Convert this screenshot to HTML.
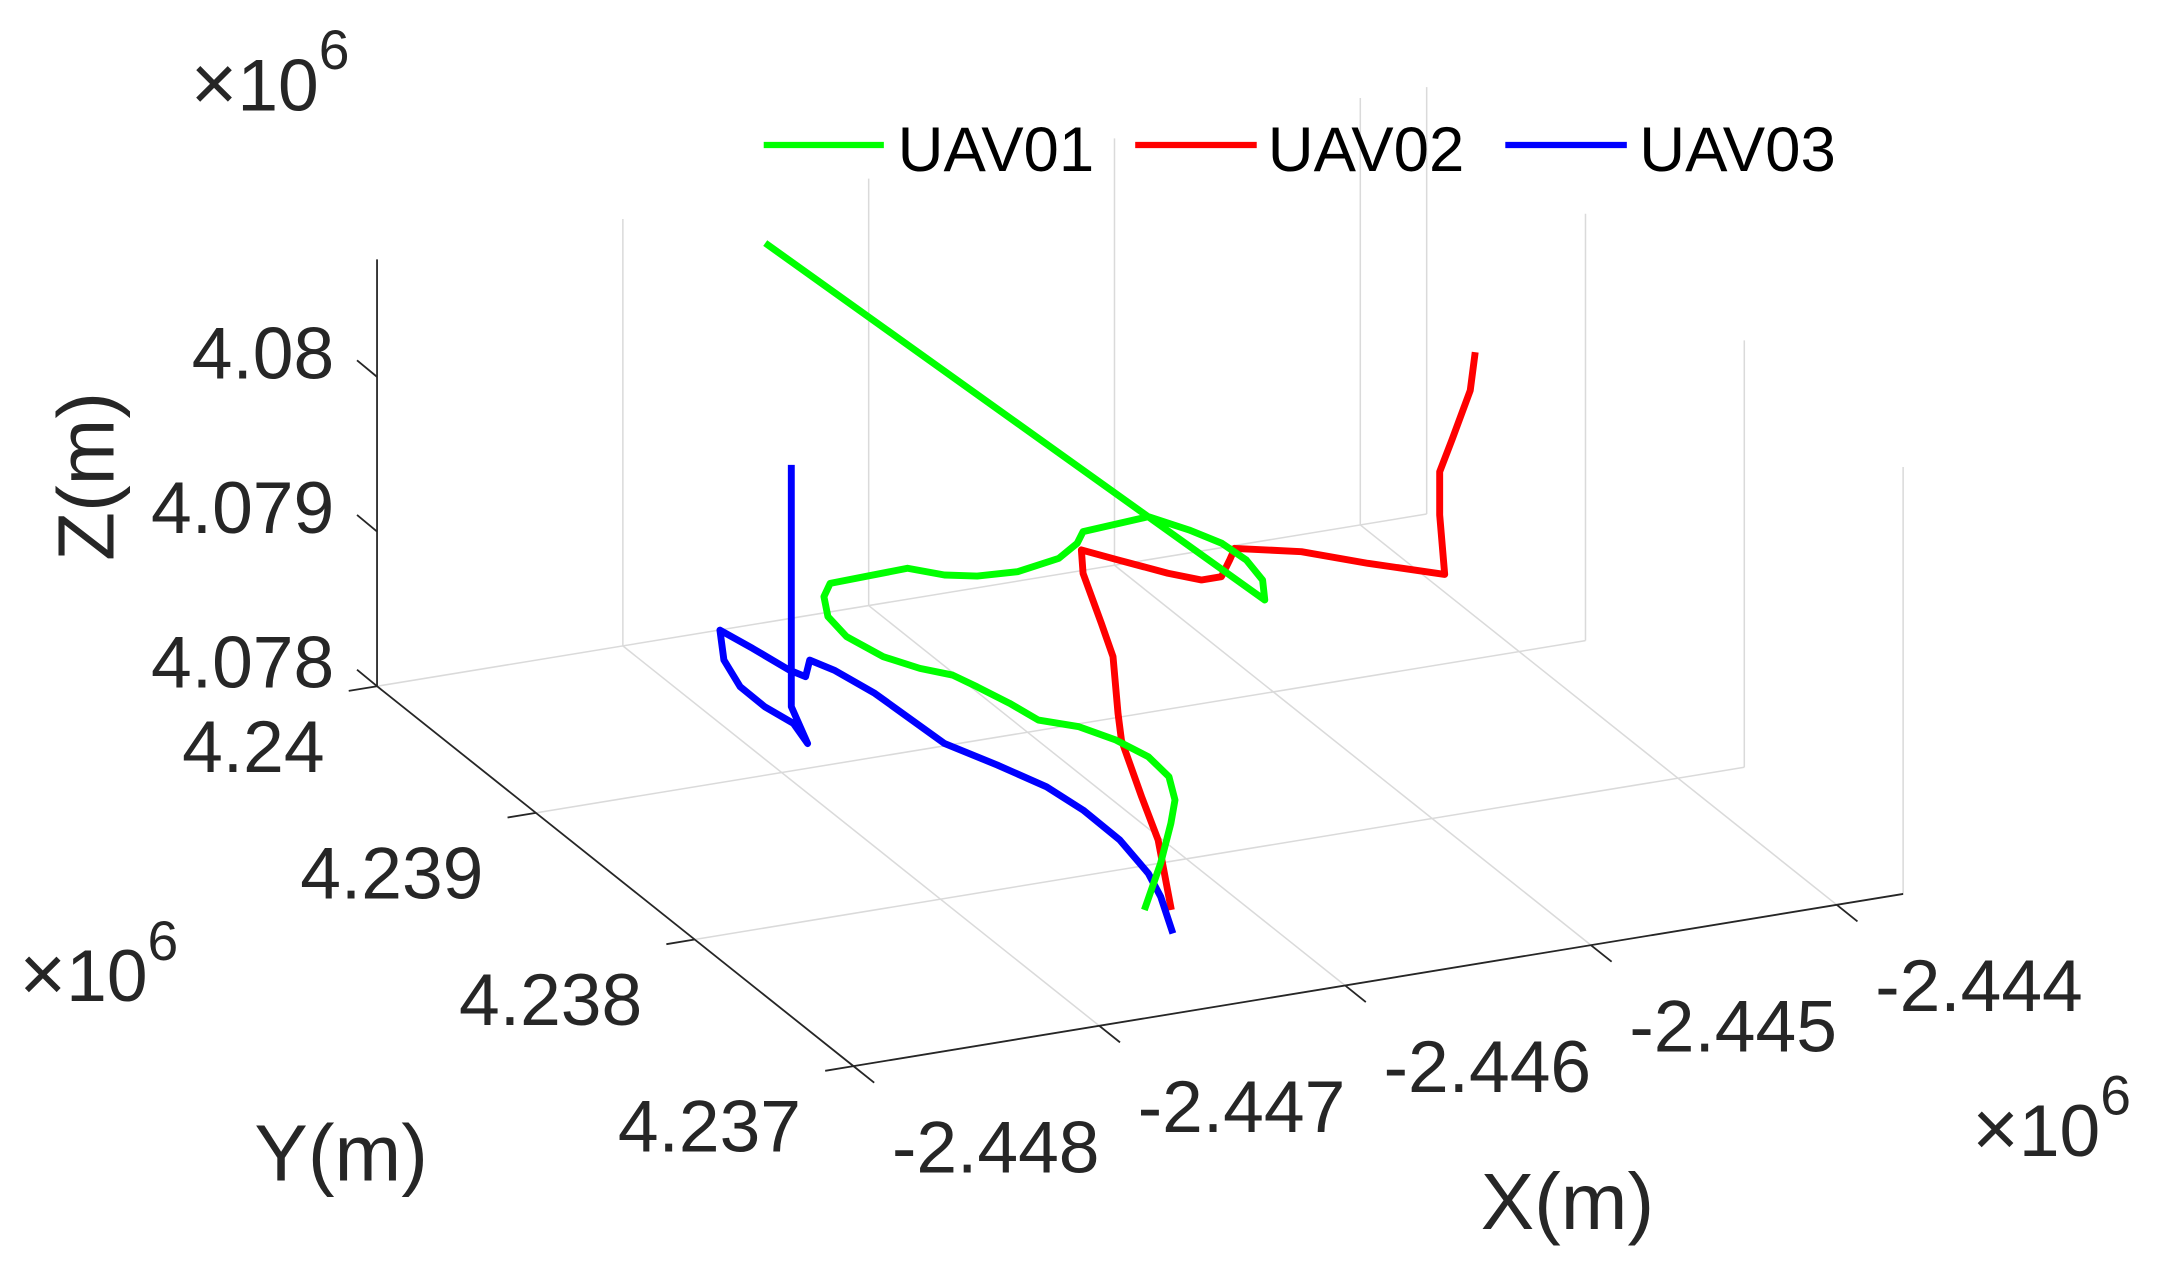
<!DOCTYPE html>
<html><head><meta charset="utf-8"><title>UAV trajectories</title>
<style>html,body{margin:0;padding:0;background:#fff;}svg{display:block;}</style></head>
<body>
<svg id="chart" xmlns="http://www.w3.org/2000/svg" width="2166" height="1277" viewBox="0 0 1568.4 924.7" font-family="Liberation Sans, Arial, sans-serif">
<rect x="0" y="0" width="1568.4" height="924.7" fill="#fff"/>
<g id="grid"></g>
<g id="axes"></g>
<g id="series"></g>
<g id="labels"></g>
<g id="legend">
  <line x1="553" y1="105" x2="640" y2="105" stroke="#00ff00" stroke-width="4.5"/>
  <text x="650" y="124" font-size="46" fill="#000">UAV01</text>
  <line x1="822" y1="105" x2="910" y2="105" stroke="#ff0000" stroke-width="4.5"/>
  <text x="918" y="124" font-size="46" fill="#000">UAV02</text>
  <line x1="1090" y1="105" x2="1178" y2="105" stroke="#0000ff" stroke-width="4.5"/>
  <text x="1187" y="124" font-size="46" fill="#000">UAV03</text>
</g>
</svg>
<script>
// ---- tick data ----
const xTicks = [-2.448, -2.447, -2.446, -2.445, -2.444];
const xTickLabels = ["-2.448", "-2.447", "-2.446", "-2.445", "-2.444"];
const yTicks = [4.237, 4.238, 4.239, 4.240];
const yTickLabels = ["4.237", "4.238", "4.239", "4.24"];
const zTicks = [4.078, 4.079, 4.080];
const zTickLabels = ["4.078", "4.079", "4.08"];
const xLimits = [-2.448, -2.44373];
const yLimits = [4.237, 4.240];
const zLimits = [4.078, 4.08076];

// ---- series data (scaled by 1e6 units) ----
const uav01X = [-2.446435,-2.44518,-2.445103,-2.445073,-2.445085,-2.445139,-2.44522,-2.445504,-2.445573,-2.445699,-2.445894,-2.446049,-2.446155,-2.446251,-2.446576,-2.446653,-2.446724,-2.446746,-2.446707,-2.446633,-2.446551,-2.446518,-2.446478,-2.446452,-2.446343,-2.446275,-2.446236,-2.446251,-2.446329,-2.446442,-2.446511,-2.446628];
const uav01Y = [4.239978,4.238775,4.238908,4.239057,4.239193,4.239315,4.239446,4.239418,4.239348,4.239269,4.239226,4.239241,4.239283,4.239367,4.239351,4.239271,4.239136,4.238985,4.238814,4.238698,4.238619,4.238516,4.238373,4.238232,4.238145,4.238018,4.237873,4.237721,4.237562,4.237413,4.237371,4.237292];
const uav01Z = [4.080475,4.078825,4.078825,4.078825,4.078825,4.078825,4.078825,4.078825,4.078825,4.078825,4.078825,4.078825,4.078825,4.078825,4.078825,4.078825,4.078825,4.078825,4.078825,4.078825,4.078825,4.078825,4.078825,4.078825,4.078825,4.078825,4.078825,4.078825,4.078825,4.078825,4.078619,4.078413];

const uav02X = [-2.444636,-2.444653,-2.444713,-2.444756,-2.444756,-2.444735,-2.444947,-2.445122,-2.445333,-2.445399,-2.445498,-2.445579,-2.445664,-2.445776,-2.445857,-2.445883,-2.445965,-2.445999,-2.446155,-2.446189,-2.446293,-2.446353,-2.446537];
const uav02Y = [4.238292,4.238297,4.238316,4.23833,4.23833,4.238331,4.238486,4.238634,4.238727,4.238657,4.238556,4.238556,4.238636,4.238777,4.238882,4.238831,4.238589,4.238463,4.23819,4.238116,4.237828,4.237631,4.237263];
const uav02Z = [4.080681,4.080434,4.080124,4.079908,4.079629,4.079238,4.079238,4.079238,4.079238,4.079238,4.079238,4.079238,4.079238,4.079238,4.079238,4.079134,4.079031,4.078928,4.078825,4.078722,4.078619,4.078516,4.078413];

const uav03X = [-2.446891,-2.446891,-2.446992,-2.446955,-2.446981,-2.446979,-2.446921,-2.446808,-2.446775,-2.446743,-2.446716,-2.446632,-2.446592,-2.446553,-2.44653,-2.446443,-2.446369,-2.446344,-2.446347,-2.446392,-2.446449,-2.446563];
const uav03Y = [4.239108,4.239108,4.238849,4.238996,4.239136,4.239294,4.239486,4.239686,4.239531,4.23935,4.239289,4.239393,4.239301,4.239105,4.238703,4.238504,4.238309,4.238117,4.237881,4.237632,4.237466,4.237213];
const uav03Z = [4.079872,4.078309,4.078309,4.078309,4.078309,4.078309,4.078309,4.078309,4.078309,4.078309,4.078309,4.078309,4.078309,4.078309,4.078309,4.078309,4.078309,4.078309,4.078309,4.078309,4.078309,4.078309];

// ---- projection (orthographic view) ----
const ORIGIN = [618, 772];
const EX = [178, -29.2], EY = [-115, -91.7], EZ = [0, -112];
function proj(x, y, z) {
  const u = (x - (-2.448)) * 1000, v = (y - 4.237) * 1000, w = (z - 4.078) * 1000;
  return [ORIGIN[0] + u*EX[0] + v*EY[0] + w*EZ[0], ORIGIN[1] + u*EX[1] + v*EY[1] + w*EZ[1]];
}
const NS = "http://www.w3.org/2000/svg";
function mk(tag, attrs, parent) {
  const el = document.createElementNS(NS, tag);
  for (const k in attrs) el.setAttribute(k, attrs[k]);
  parent.appendChild(el);
  return el;
}
function seg(a, b, stroke, sw, parent) {
  return mk("line", {x1:a[0].toFixed(2), y1:a[1].toFixed(2), x2:b[0].toFixed(2), y2:b[1].toFixed(2), stroke:stroke, "stroke-width":sw}, parent);
}
const gGrid = document.getElementById("grid");
const gAxes = document.getElementById("axes");
const gSeries = document.getElementById("series");
const gLabels = document.getElementById("labels");
const GRID = "#dadada";
const [x0, x1] = xLimits, [y0, y1] = yLimits, [z0, z1] = zLimits;

xTicks.forEach((xv) => {
  const l = seg(proj(xv, y0, z0), proj(xv, y1, z0), GRID, 1.1, gGrid);
  
  
});
yTicks.forEach((yv) => {
  const l = seg(proj(x0, yv, z0), proj(x1, yv, z0), GRID, 1.1, gGrid);
  
  
});
xTicks.forEach((xv) => {
  if (xv === x0) return;
  const l = seg(proj(xv, y1, z0), proj(xv, y1, z1), GRID, 1.1, gGrid);
  
  
});
yTicks.forEach((yv) => {
  const l = seg(proj(x1, yv, z0), proj(x1, yv, z1), GRID, 1.1, gGrid);
  
  
});

let ax = seg(proj(x0, y0, z0), proj(x1, y0, z0), "#262626", 1.3, gAxes);


ax = seg(proj(x0, y1, z0), proj(x0, y0, z0), "#262626", 1.3, gAxes);


ax = seg(proj(x0, y1, z0), proj(x0, y1, z1), "#262626", 1.3, gAxes);



xTicks.forEach((xv, i) => {
  const p = proj(xv, y0, z0);
  const t = seg(p, [p[0] + 15, p[1] + 12], "#262626", 1.3, gAxes);
  
  
  const tx = mk("text", {x:(p[0] + 103).toFixed(1), y:(p[1] + 77).toFixed(1), "font-size":53, fill:"#262626", "text-anchor":"middle"}, gLabels);
  tx.textContent = xTickLabels[i];
  
  
});
yTicks.forEach((yv, i) => {
  const p = proj(x0, yv, z0);
  const t = seg(p, [p[0] - 20.5, p[1] + 3.4], "#262626", 1.3, gAxes);
  
  
  const tx = mk("text", {x:(p[0] - 38).toFixed(1), y:(p[1] + 62).toFixed(1), "font-size":53, fill:"#262626", "text-anchor":"end"}, gLabels);
  tx.textContent = yTickLabels[i];
  
  
});
zTicks.forEach((zv, i) => {
  const p = proj(x0, y1, zv);
  const t = seg(p, [p[0] - 14.5, p[1] - 12], "#262626", 1.3, gAxes);
  
  
  const tx = mk("text", {x:(p[0] - 31).toFixed(1), y:(p[1] + 1).toFixed(1), "font-size":53, fill:"#262626", "text-anchor":"end"}, gLabels);
  tx.textContent = zTickLabels[i];
  
  
});

function drawSeries(xs, ys, zs, color, name) {
  const pts = xs.map((xv, i) => proj(xv, ys[i], zs[i]).map(n => n.toFixed(2)).join(",")).join(" ");
  const pl = mk("polyline", {points:pts, fill:"none", stroke:color, "stroke-width":5, "stroke-linejoin":"round", "stroke-linecap":"butt"}, gSeries);
  
  
}
drawSeries(uav02X, uav02Y, uav02Z, "#ff0000", "uav02-trajectory");
drawSeries(uav03X, uav03Y, uav03Z, "#0000ff", "uav03-trajectory");
drawSeries(uav01X, uav01Y, uav01Z, "#00ff00", "uav01-trajectory");

function txt(x, y, size, content, name, extra) {
  const t = mk("text", Object.assign({x:x, y:y, "font-size":size, fill:"#262626"}, extra || {}), gLabels);
  t.textContent = content;
  
  
  return t;
}
txt(247, 855, 58, "Y(m)", "y-axis-title", {"text-anchor":"middle"});
txt(1135, 890, 58, "X(m)", "x-axis-title", {"text-anchor":"middle"});
txt(0, 0, 58, "Z(m)", "z-axis-title", {"text-anchor":"middle", transform:"translate(82,345) rotate(-90)"});

function expo(x, y, name) {
  const t = mk("text", {x:x, y:y, "font-size":53, fill:"#262626"}, gLabels);
  
  
  const a = mk("tspan", {"font-size":58, "font-weight":"300"}, t); a.textContent = "×";
  const b = mk("tspan", {}, t); b.textContent = "10";
  const c = mk("tspan", {"font-size":40, dy:-30}, t); c.textContent = "6";
}
expo(138, 80, "z-exponent-label");
expo(14, 725, "y-exponent-label");
expo(1428, 837, "x-exponent-label");
</script>
</body></html>
